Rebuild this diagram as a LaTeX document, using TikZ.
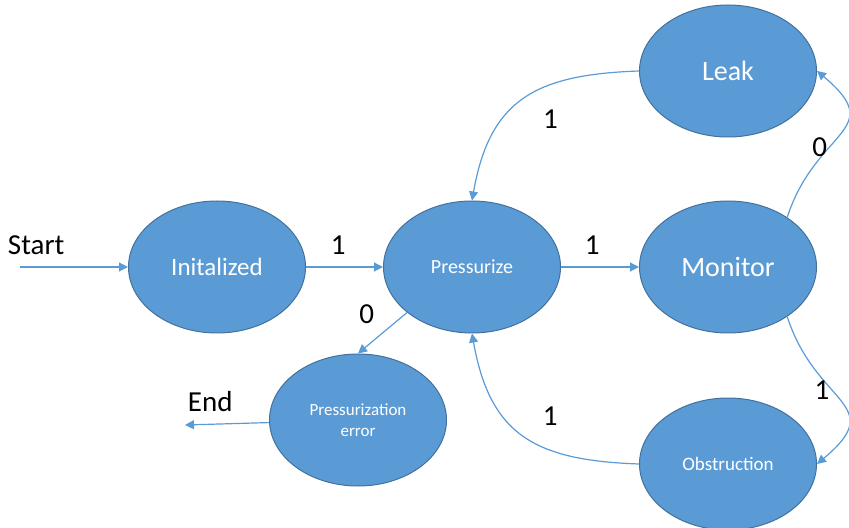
\documentclass[tikz,border=0pt]{standalone}
\usepackage{fontspec}
\setmainfont{Carlito}
\usepackage{xcolor}
\usetikzlibrary{
	arrows.meta,
	shapes.geometric
}
\definecolor{stateblue}{HTML}{5B9BD5}
\definecolor{stateline}{HTML}{41719C}
\tikzset{
	state/.style={ellipse, draw=stateline, line width=0.5pt, fill=stateblue, text=white,
		minimum width=88.5pt, minimum height=66pt, inner sep=0pt, align=center},
	trans/.style={draw=stateblue, line width=0.6pt, -{Triangle[length=4.5pt,width=4.5pt]}},
	lbl/.style={text=black, inner sep=0pt, font=\fontsize{14.5}{16}\selectfont}
}

\begin{document}
\begin{tikzpicture}[x=0.5pt,y=-0.5pt]
	% 画布
	\useasboundingbox (0,0) rectangle (849,528);
	
	% 状态
	\node[state, font=\fontsize{12.5}{14}\selectfont] (init) at (217,267) {Initalized};
	\node[state, font=\fontsize{10}{12}\selectfont] (press) at (472,267) {Pressurize};
	\node[state, font=\fontsize{14}{16}\selectfont] (mon) at (728,267) {Monitor};
	\node[state, font=\fontsize{14}{16}\selectfont] (leak) at (728,71) {Leak};
	\node[state, font=\fontsize{9.5}{11}\selectfont] (obs) at (728,464) {Obstruction};
	\node[state, font=\fontsize{8.5}{10.5}\selectfont] (err) at (358,420) {Pressurization\\error};
	
	% 起点和终点
	\coordinate (start) at (20,267);
	\coordinate (fin) at (185,425);
	
	% 直线转移
	\draw[trans] (start) -- (init) node[lbl, pos=0.15, above=6pt] {Start};
	\draw[trans] (init) -- (press) node[lbl, pos=0.42, above=6pt] {1};
	\draw[trans] (press) -- (mon) node[lbl, pos=0.4, above=6pt] {1};
	\draw[trans] (press.215) -- (err.north) node[lbl, pos=0.05, left=15pt] {0};
	\draw[trans] (err) -- (fin) node[lbl, pos=0.7, above=6pt] {End};
	
	% 曲线转移
	\draw[trans] (leak.west) to[out=182,in=80,looseness=1.25] node[lbl, pos=0.35, below=12pt] {1} (press.north);
	\draw[trans] (obs.west) to[out=178,in=-80,looseness=1.25] node[lbl, pos=0.35, above=12pt] {1} (press.south);
	\draw[trans] (mon.40) to[out=72,in=-40,looseness=1.6] node[lbl, pos=0.38, left=0.5pt] {0} (leak.east);
	\draw[trans] (mon.-40) to[out=-72,in=40,looseness=1.6] node[lbl, pos=0.4, left=0.5pt] {1} (obs.east);
\end{tikzpicture}
\end{document}
